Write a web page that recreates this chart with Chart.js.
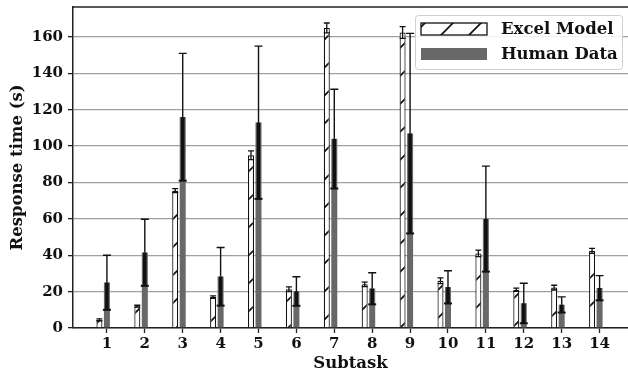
<!DOCTYPE html>
<html>
<head>
<meta charset="utf-8">
<script src="https://cdn.jsdelivr.net/npm/chart.js@4.4.0/dist/chart.umd.min.js"></script>
<style>
    html, body { margin: 0; padding: 0; background: #fff; }
    #wrap { width: 628px; height: 376px; }
</style>
</head>
<body>
<div id="wrap"><canvas id="chart"></canvas></div>
<script>
const subtasks = [1, 2, 3, 4, 5, 6, 7, 8, 9, 10, 11, 12, 13, 14];
const excelModel = [4.5, 12, 75.5, 17, 95, 21.3, 165, 24, 162.5, 26, 41, 21, 22.2, 42.4];
const excelErr = [0.5, 0.5, 1.1, 0.7, 2.4, 1.3, 2.7, 1.2, 3.2, 1.6, 1.8, 0.9, 1.3, 1.4];
const humanData = [25, 41.5, 116, 28.3, 113, 20.2, 104, 21.7, 107, 22.5, 60, 13.6, 12.8, 22];
const humanErr = [15, 18.3, 35, 16, 42, 8, 27.3, 8.7, 55, 9, 29, 11, 4.3, 6.8];
const yTicks = [0, 20, 40, 60, 80, 100, 120, 140, 160];

const FONT = 'DejaVu Serif';
const canvas = document.getElementById('chart');
const ctx = canvas.getContext('2d');

// diagonal "/" hatch for the model bars
function makeHatch() {
    const c = document.createElement('canvas');
    c.width = 28; c.height = 28;
    const g = c.getContext('2d');
    g.fillStyle = '#fff';
    g.fillRect(0, 0, 28, 28);
    g.strokeStyle = '#111';
    g.lineWidth = 1.7;
    g.beginPath();
    g.moveTo(-2, 30); g.lineTo(30, -2);
    g.moveTo(-2, 2); g.lineTo(2, -2);
    g.moveTo(26, 30); g.lineTo(30, 26);
    g.stroke();
    return ctx.createPattern(c, 'repeat');
}
const hatch = makeHatch();

function roundRect(c, x, y, w, h, r) {
    c.beginPath();
    c.moveTo(x + r, y);
    c.lineTo(x + w - r, y);
    c.arcTo(x + w, y, x + w, y + r, r);
    c.lineTo(x + w, y + h - r);
    c.arcTo(x + w, y + h, x + w - r, y + h, r);
    c.lineTo(x + r, y + h);
    c.arcTo(x, y + h, x, y + h - r, r);
    c.lineTo(x, y + r);
    c.arcTo(x, y, x + r, y, r);
    c.closePath();
}

const extras = {
    id: 'extras',
    afterDraw(chart) {
        const c = chart.ctx;
        const area = chart.chartArea;
        const ys = chart.scales.y;
        c.save();

        // top spine
        c.strokeStyle = '#222';
        c.lineWidth = 1.5;
        c.beginPath();
        c.moveTo(area.left, area.top);
        c.lineTo(area.right, area.top);
        c.stroke();

        // error bars, model
        chart.getDatasetMeta(0).data.forEach((bar, i) => {
            const hi = ys.getPixelForValue(excelModel[i] + excelErr[i]);
            const lo = ys.getPixelForValue(excelModel[i] - excelErr[i]);
            c.strokeStyle = '#111';
            c.lineWidth = 1.3;
            c.beginPath();
            c.moveTo(bar.x, hi); c.lineTo(bar.x, lo);
            c.moveTo(bar.x - 3, hi); c.lineTo(bar.x + 3, hi);
            c.moveTo(bar.x - 3, lo); c.lineTo(bar.x + 3, lo);
            c.stroke();
        });

        // error bars, human
        chart.getDatasetMeta(1).data.forEach((bar, i) => {
            const hi = ys.getPixelForValue(humanData[i] + humanErr[i]);
            const mid = ys.getPixelForValue(humanData[i]);
            const lo = ys.getPixelForValue(humanData[i] - humanErr[i]);
            c.fillStyle = '#111';
            c.fillRect(bar.x - 1.8, mid, 3.6, lo - mid);
            c.strokeStyle = '#111';
            c.lineWidth = 1.4;
            c.beginPath();
            c.moveTo(bar.x, hi); c.lineTo(bar.x, mid);
            c.moveTo(bar.x - 4, hi); c.lineTo(bar.x + 4, hi);
            c.stroke();
            c.lineWidth = 2;
            c.beginPath();
            c.moveTo(bar.x - 4, lo); c.lineTo(bar.x + 4, lo);
            c.stroke();
        });

        // legend
        roundRect(c, 415.5, 15.5, 207, 54, 3);
        c.fillStyle = 'rgba(255,255,255,0.85)';
        c.fill();
        c.strokeStyle = '#d0d0d0';
        c.lineWidth = 1;
        c.stroke();

        c.fillStyle = hatch;
        c.fillRect(421, 23, 66, 12);
        c.strokeStyle = '#111';
        c.lineWidth = 1.3;
        c.strokeRect(421, 23, 66, 12);
        c.fillStyle = '#686868';
        c.fillRect(421, 48, 66, 12);

        c.fillStyle = '#111';
        c.font = 'bold 16.5px "' + FONT + '"';
        c.textBaseline = 'middle';
        c.textAlign = 'left';
        c.fillText(chart.data.datasets[0].label, 501, 29.5);
        c.fillText(chart.data.datasets[1].label, 501, 54.5);
        c.restore();
    }
};

new Chart(canvas, {
    type: 'bar',
    data: {
        datasets: [
            {
                label: 'Excel Model',
                data: subtasks.map((s, i) => ({ x: s, y: excelModel[i] })),
                backgroundColor: hatch,
                borderColor: '#111',
                borderWidth: 1.2
            },
            {
                label: 'Human Data',
                data: subtasks.map((s, i) => ({ x: s, y: humanData[i] })),
                backgroundColor: '#686868',
                borderWidth: 0
            },
            {
                // empty slot so the human bar sits on the tick
                label: '',
                data: []
            }
        ]
    },
    options: {
        responsive: true,
        maintainAspectRatio: false,
        animation: false,
        categoryPercentage: 0.594,
        barPercentage: 0.8,
        layout: { padding: { top: 7, left: 0, right: 0, bottom: 0 } },
        plugins: {
            legend: { display: false },
            tooltip: { enabled: false }
        },
        scales: {
            x: {
                type: 'linear',
                offset: false,
                min: 0.105,
                max: 14.75,
                afterBuildTicks: (scale) => { scale.ticks = subtasks.map(v => ({ value: v })); },
                afterFit: (scale) => {
                    scale.height = 48;
                    scale.paddingLeft = 0; scale.paddingRight = 0;
                },
                grid: { offset: false, drawOnChartArea: false, tickLength: 5, tickColor: '#222', tickWidth: 1.3 },
                border: { display: true, color: '#222', width: 1.5 },
                ticks: {
                    color: '#111',
                    padding: 2,
                    font: { family: FONT, size: 15, weight: 'bold' },
                    callback: (v) => String(v)
                },
                title: {
                    display: true,
                    text: 'Subtask',
                    color: '#111',
                    padding: { top: 0, bottom: 2 },
                    font: { family: FONT, size: 16.5, weight: 'bold' }
                }
            },
            y: {
                min: 0,
                max: 176.5,
                z: 1,
                afterBuildTicks: (scale) => { scale.ticks = yTicks.map(v => ({ value: v })); },
                afterFit: (scale) => {
                    scale.width = 73;
                    scale.paddingTop = 0; scale.paddingBottom = 0;
                },
                grid: { color: '#a0a0a0', lineWidth: 1.3, tickLength: 5, tickColor: '#222', tickWidth: 1.3 },
                border: { display: true, color: '#222', width: 1.5 },
                ticks: {
                    color: '#111',
                    padding: 5,
                    font: { family: FONT, size: 15, weight: 'bold' }
                },
                title: {
                    display: true,
                    text: 'Response time (s)',
                    color: '#111',
                    padding: { top: 7.5, bottom: 0 },
                    font: { family: FONT, size: 16.5, weight: 'bold' }
                }
            }
        }
    },
    plugins: [extras]
});
</script>
</body>
</html>
